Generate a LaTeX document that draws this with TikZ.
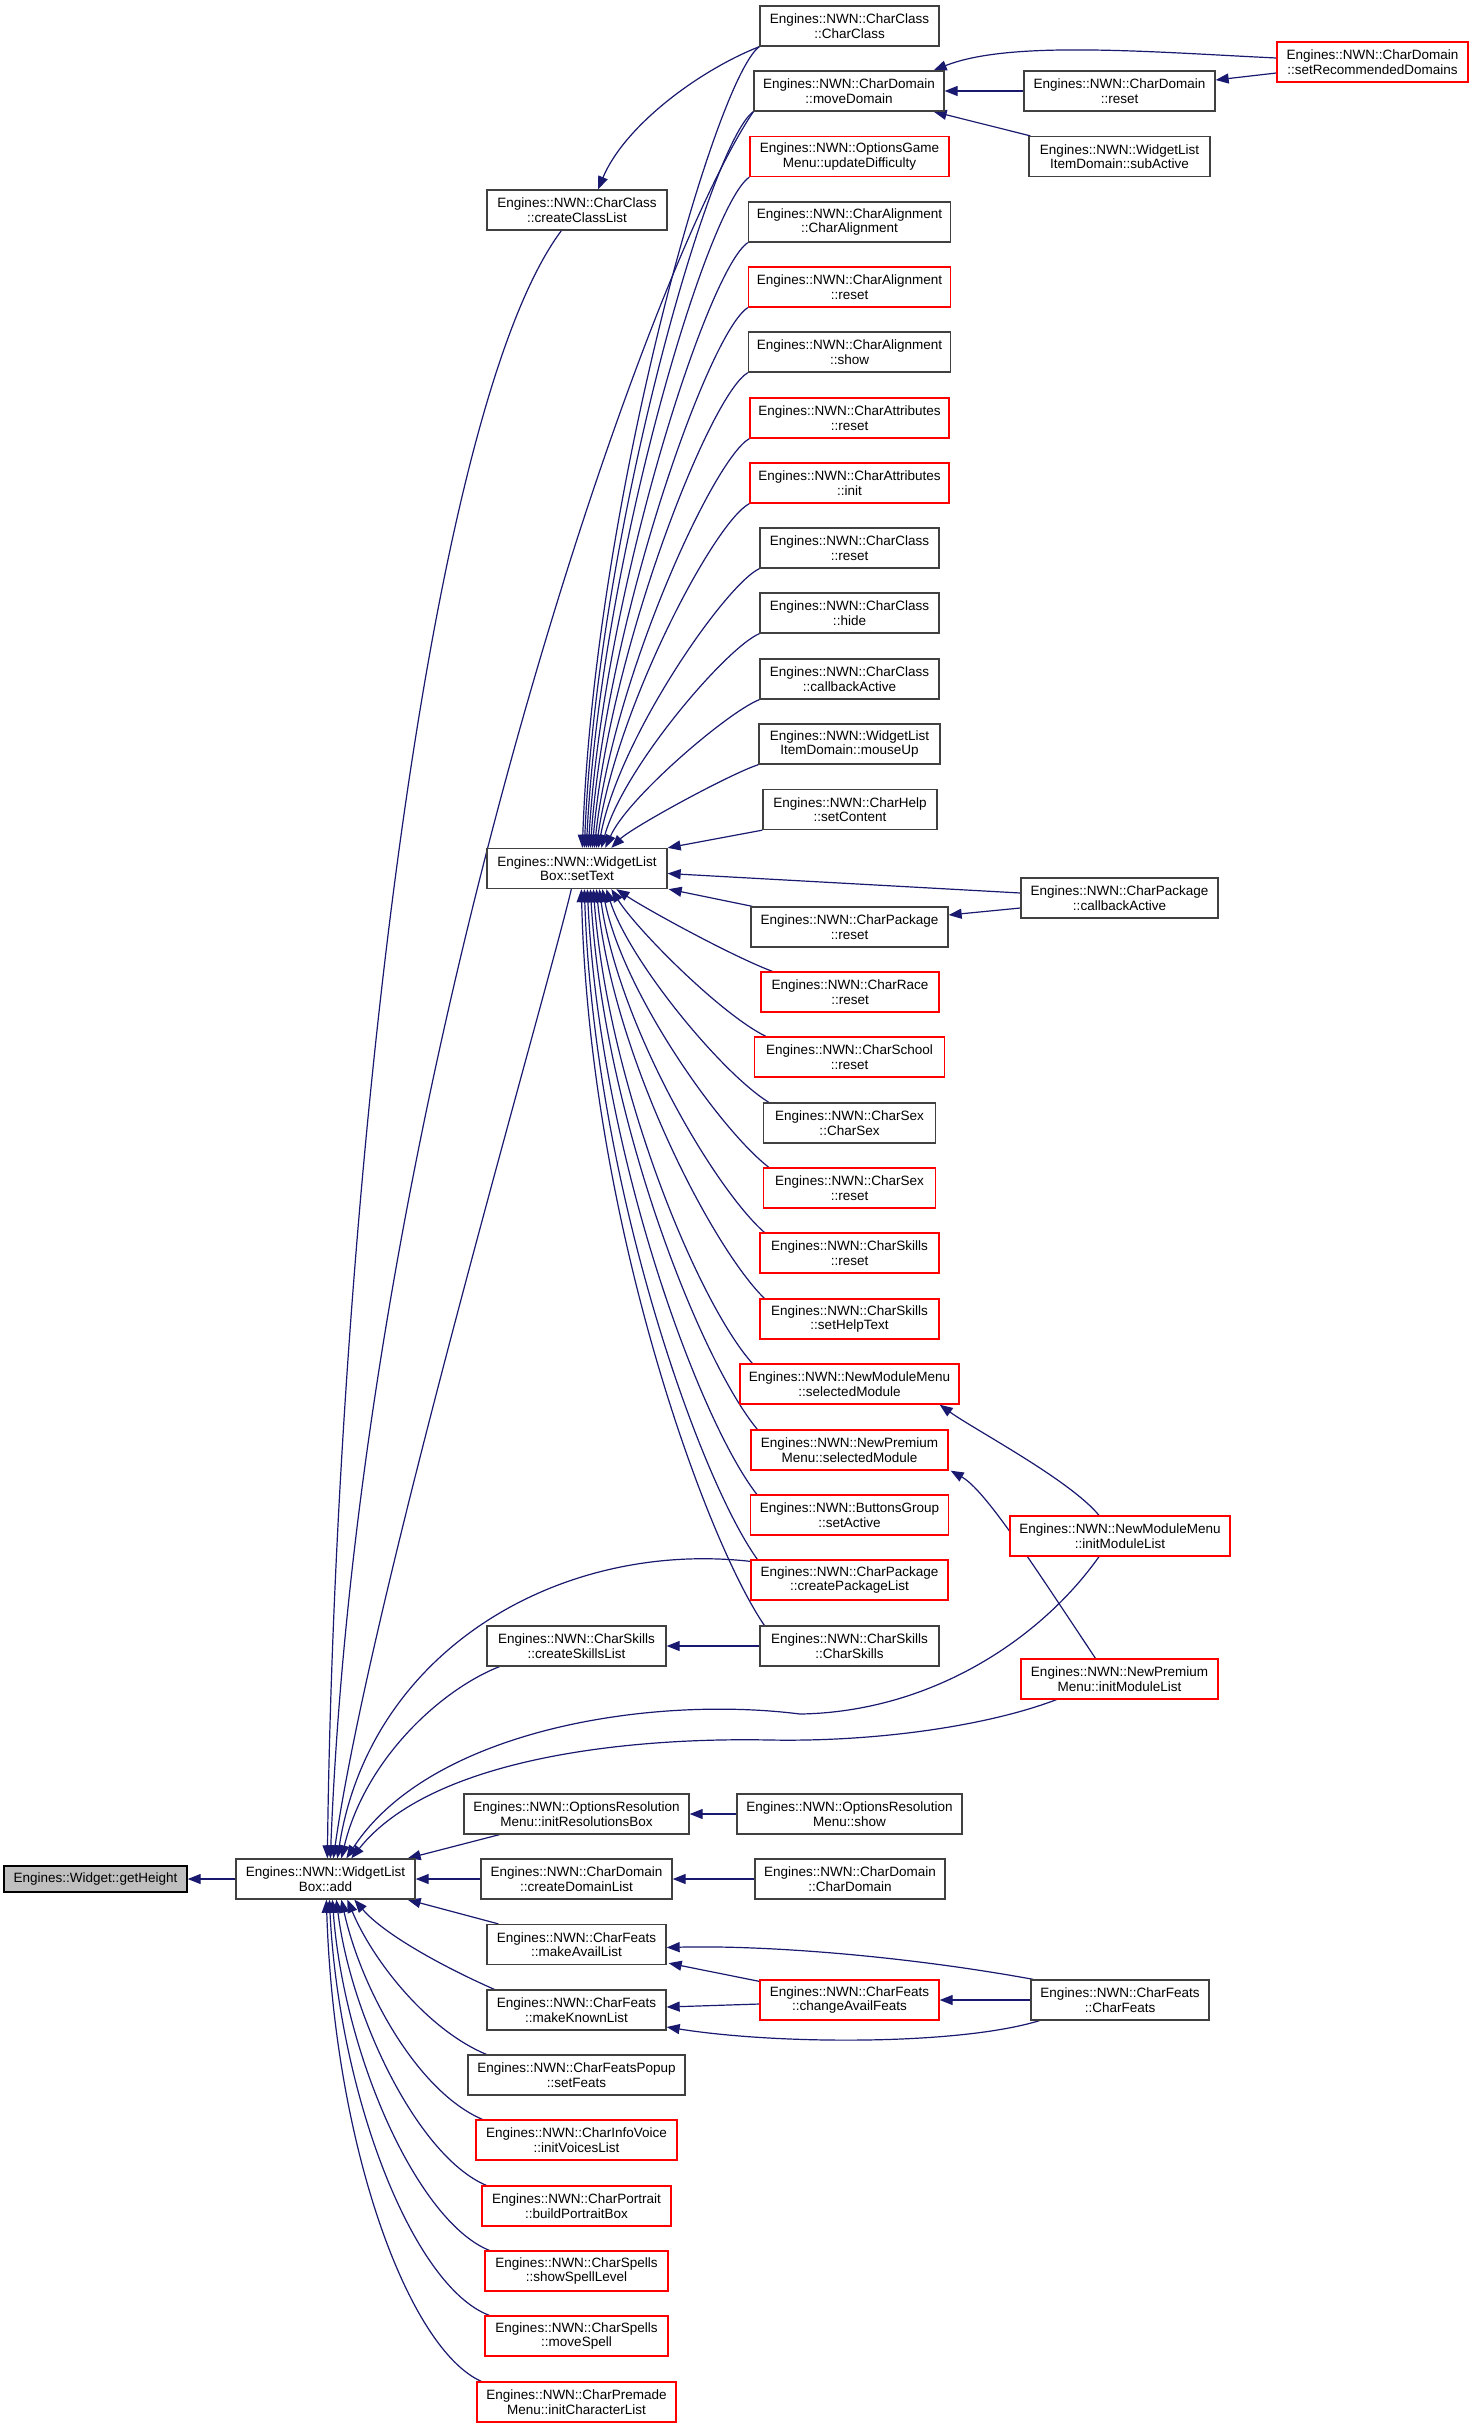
\documentclass[tikz,border=0pt]{standalone}
\usepackage{fontspec}
\setmainfont{Liberation Sans}
\usetikzlibrary{arrows.meta,calc}
\definecolor{edgec}{HTML}{191970}
\definecolor{boxgray}{HTML}{404040}
\definecolor{boxred}{HTML}{FF0000}
\definecolor{fillgray}{HTML}{BFBFBF}
\pgfdeclarelayer{background}
\pgfsetlayers{background,main}
\begin{document}
\begin{tikzpicture}[x=1pt,y=-1pt,
 nb/.style={draw=boxgray, fill=white, line width=1.3pt, rectangle, minimum height=40pt, inner sep=0pt, align=center, font=\fontsize{13.5}{14.6}\selectfont},
 rb/.style={nb, draw=boxred},
 edg/.style={draw=edgec, line width=1.2pt, -{Triangle[length=13pt,width=10pt]}}]
\useasboundingbox (0,0) rectangle (1473,2428);
% column 1-2
\node[nb, fill=fillgray, draw=black, minimum width=183pt, minimum height=26pt] (gh) at (95.5,1879) {Engines::Widget::getHeight};
\node[nb, minimum width=179pt] (add) at (325.5,1879) {Engines::NWN::WidgetList\\Box::add};
% column 3
\node[nb, minimum width=180pt] (ccl) at (577,210) {Engines::NWN::CharClass\\::createClassList};
\node[nb, minimum width=180pt] (st) at (577,868.5) {Engines::NWN::WidgetList\\Box::setText};
\node[nb, minimum width=179pt] (csl) at (576.5,1646) {Engines::NWN::CharSkills\\::createSkillsList};
\node[nb, minimum width=225pt] (irb) at (576.5,1814) {Engines::NWN::OptionsResolution\\Menu::initResolutionsBox};
\node[nb, minimum width=191pt] (cdl) at (576.5,1879) {Engines::NWN::CharDomain\\::createDomainList};
\node[nb, minimum width=179pt] (mal) at (576.5,1944.5) {Engines::NWN::CharFeats\\::makeAvailList};
\node[nb, minimum width=179pt] (mkl) at (576.5,2010) {Engines::NWN::CharFeats\\::makeKnownList};
\node[nb, minimum width=217pt] (sf) at (576.5,2075) {Engines::NWN::CharFeatsPopup\\::setFeats};
\node[rb, minimum width=201pt] (ivl) at (576.5,2140) {Engines::NWN::CharInfoVoice\\::initVoicesList};
\node[rb, minimum width=189pt] (bpb) at (576.5,2206) {Engines::NWN::CharPortrait\\::buildPortraitBox};
\node[rb, minimum width=183pt] (ssl) at (576.5,2271) {Engines::NWN::CharSpells\\::showSpellLevel};
\node[rb, minimum width=183pt] (msp) at (576.5,2336) {Engines::NWN::CharSpells\\::moveSpell};
\node[rb, minimum width=199pt] (icl) at (576.5,2402) {Engines::NWN::CharPremade\\Menu::initCharacterList};
% column 4
\node[nb, minimum width=179pt] (cc) at (849.5,26) {Engines::NWN::CharClass\\::CharClass};
\node[nb, minimum width=190pt] (md) at (849,91) {Engines::NWN::CharDomain\\::moveDomain};
\node[rb, minimum width=199pt] (ud) at (849.5,156.5) {Engines::NWN::OptionsGame\\Menu::updateDifficulty};
\node[nb, minimum width=202pt] (cac) at (849.5,222) {Engines::NWN::CharAlignment\\::CharAlignment};
\node[rb, minimum width=202pt] (car) at (849.5,287) {Engines::NWN::CharAlignment\\::reset};
\node[nb, minimum width=202pt] (cas) at (849.5,352) {Engines::NWN::CharAlignment\\::show};
\node[rb, minimum width=199pt] (catr) at (849.5,418) {Engines::NWN::CharAttributes\\::reset};
\node[rb, minimum width=199pt] (cati) at (849.5,483) {Engines::NWN::CharAttributes\\::init};
\node[nb, minimum width=179pt] (ccr) at (849.5,548) {Engines::NWN::CharClass\\::reset};
\node[nb, minimum width=179pt] (cch) at (849.5,613) {Engines::NWN::CharClass\\::hide};
\node[nb, minimum width=179pt] (cccb) at (849.5,679) {Engines::NWN::CharClass\\::callbackActive};
\node[nb, minimum width=181pt] (mu) at (849.5,744) {Engines::NWN::WidgetList\\ItemDomain::mouseUp};
\node[nb, minimum width=174pt] (help) at (850,809.5) {Engines::NWN::CharHelp\\::setContent};
\node[nb, minimum width=197pt] (cpr) at (849.5,927) {Engines::NWN::CharPackage\\::reset};
\node[rb, minimum width=178pt] (crr) at (850,992) {Engines::NWN::CharRace\\::reset};
\node[rb, minimum width=190pt] (csr) at (849.5,1057) {Engines::NWN::CharSchool\\::reset};
\node[nb, minimum width=172pt] (csx) at (849.5,1123) {Engines::NWN::CharSex\\::CharSex};
\node[rb, minimum width=172pt] (csxr) at (849.5,1188) {Engines::NWN::CharSex\\::reset};
\node[rb, minimum width=179pt] (cskr) at (849.5,1253) {Engines::NWN::CharSkills\\::reset};
\node[rb, minimum width=179pt] (csht) at (849.5,1319) {Engines::NWN::CharSkills\\::setHelpText};
\node[rb, minimum width=219pt] (nms) at (849.5,1384) {Engines::NWN::NewModuleMenu\\::selectedModule};
\node[rb, minimum width=197pt] (nps) at (849.5,1450) {Engines::NWN::NewPremium\\Menu::selectedModule};
\node[rb, minimum width=198pt] (bgs) at (849.5,1515) {Engines::NWN::ButtonsGroup\\::setActive};
\node[rb, minimum width=197pt] (cpl) at (849.5,1580) {Engines::NWN::CharPackage\\::createPackageList};
\node[nb, minimum width=179pt] (css) at (849.5,1646) {Engines::NWN::CharSkills\\::CharSkills};
\node[nb, minimum width=225pt] (ors) at (849.5,1814) {Engines::NWN::OptionsResolution\\Menu::show};
\node[nb, minimum width=190pt] (cdc) at (850,1879) {Engines::NWN::CharDomain\\::CharDomain};
\node[rb, minimum width=179pt] (caf) at (849.5,2000) {Engines::NWN::CharFeats\\::changeAvailFeats};
% column 5-6
\node[nb, minimum width=191pt] (cdr) at (1119.5,91) {Engines::NWN::CharDomain\\::reset};
\node[nb, minimum width=181pt] (sub) at (1119.5,156.5) {Engines::NWN::WidgetList\\ItemDomain::subActive};
\node[nb, minimum width=197pt] (cpcb) at (1119.5,898) {Engines::NWN::CharPackage\\::callbackActive};
\node[rb, minimum width=220pt] (nmi) at (1120,1536) {Engines::NWN::NewModuleMenu\\::initModuleList};
\node[rb, minimum width=197pt] (npi) at (1119.5,1679) {Engines::NWN::NewPremium\\Menu::initModuleList};
\node[nb, minimum width=178pt] (cf) at (1120,2000) {Engines::NWN::CharFeats\\::CharFeats};
\node[rb, minimum width=191pt] (srd) at (1372.5,62) {Engines::NWN::CharDomain\\::setRecommendedDomains};

\begin{pgfonlayer}{background}
\fill[white] (0,0) rectangle (1473,2428);
\draw[edg] (add.west) -- (gh.east);
% callers of add, from above
\draw[edg] ($(ccl.south west)+(75,0)$) .. controls (420,420) and (335,1250) .. ($(add.north west)+(92,0)$);
\draw[edg] (md.south west) .. controls (640,280) and (360,1100) .. ($(add.north west)+(95,0)$);
\draw[edg] ($(st.south west)+(85,0)$) .. controls (545,1000) and (370,1600) .. ($(add.north west)+(98,0)$);
\draw[edg] ($(cpl.north west)+(0,2)$) .. controls (560,1540) and (370,1650) .. ($(add.north west)+(102,0)$);
\draw[edg] ($(csl.south west)+(13,0)$) .. controls (440,1690) and (365,1760) .. ($(add.north west)+(106,0)$);
\draw[edg] ($(nmi.south)+(-21,0)$) .. controls (1040,1640) and (930,1712) .. (800,1714) .. controls (650,1695) and (430,1730) .. ($(add.north west)+(111,0)$);
\draw[edg] ($(npi.south west)+(36,0)$) .. controls (990,1725) and (880,1742) .. (770,1740) .. controls (620,1737) and (430,1760) .. ($(add.north west)+(116,0)$);
\draw[edg] ($(irb.south west)+(36,0)$) -- ($(add.north east)+(-8,0)$);
\draw[edg] (cdl.west) -- (add.east);
% callers of add, from below
\draw[edg] ($(mal.north west)+(12,0)$) -- ($(add.south east)+(-8,0)$);
\draw[edg] ($(mkl.north west)+(8,0)$) .. controls +(-50,-22) and +(30,35) .. ($(add.south west)+(119,0)$);
\draw[edg] ($(sf.north west)+(19,0)$) .. controls +(-60,-25) and +(25,60) .. ($(add.south west)+(112,0)$);
\draw[edg] ($(ivl.north west)+(7,0)$) .. controls +(-65,-28) and +(20,90) .. ($(add.south west)+(106,0)$);
\draw[edg] ($(bpb.north west)+(5,0)$) .. controls +(-67,-28) and +(15,120) .. ($(add.south west)+(101,0)$);
\draw[edg] ($(ssl.north west)+(5,0)$) .. controls +(-70,-28) and +(12,160) .. ($(add.south west)+(97,0)$);
\draw[edg] ($(msp.north west)+(5,0)$) .. controls +(-75,-28) and +(10,200) .. ($(add.south west)+(94,0)$);
\draw[edg] ($(icl.north west)+(5,0)$) .. controls +(-72,-32) and +(8,250) .. ($(add.south west)+(91,0)$);
% straight ones
\draw[edg] (css.west) -- (csl.east);
\draw[edg] (ors.west) -- (irb.east);
\draw[edg] (cdc.west) -- (cdl.east);
\draw[edg] (cf.west) -- (caf.east);
\draw[edg] (cdr.west) -- (md.east);
% feats
\draw[edg] ($(cf.north west)+(3,0)$) .. controls (900,1955) and (760,1945) .. ($(mal.east)+(0,3)$);
\draw[edg] ($(caf.north west)+(0,2)$) -- ($(mal.south east)+(2,-2)$);
\draw[edg] ($(caf.west)+(0,4)$) -- ($(mkl.east)+(0,-3)$);
\draw[edg] ($(cf.south west)+(9,0)$) .. controls (960,2045) and (780,2045) .. ($(mkl.east)+(0,17)$);
% domains
\draw[edg] ($(srd.west)+(0,-4)$) .. controls (1150,52) and (1010,40) .. ($(md.north east)+(-11,0)$);
\draw[edg] ($(srd.west)+(0,11)$) -- ($(cdr.east)+(0,-11)$);
\draw[edg] ($(sub.north west)+(2,0)$) -- ($(md.south east)+(-11,0)$);
% package
\draw[edg] ($(cpcb.west)+(0,-5)$) -- ($(st.east)+(0,5)$);
\draw[edg] ($(cpcb.west)+(0,10)$) -- ($(cpr.east)+(0,-12)$);
\draw[edg] ($(cpr.north west)+(2,0)$) -- ($(st.south east)+(1,0)$);
\draw[edg] (help.south west) -- (st.north east);
% modules
\draw[edg] ($(nmi.north)+(-21,0)$) .. controls (1070,1480) and (975,1430) .. ($(nms.south east)+(-20,0)$);
\draw[edg] ($(npi.north)+(-24,0)$) .. controls (1030,1560) and (985,1490) .. ($(nps.south east)+(2,0)$);
% class list
\draw[edg] (cc.south west) .. controls (700,70) and (625,125) .. ($(ccl.north)+(21,0)$);
% callers of setText, from above
\draw[edg] (cc.south west) .. controls +(-44,32) and +(12,-343) .. ($(st.north west)+(96,0)$);
\draw[edg] (md.south west) .. controls +(-43,30) and +(13,-314) .. ($(st.north west)+(98,0)$);
\draw[edg] (ud.south west) .. controls +(-42,28) and +(14,-285) .. ($(st.north west)+(100,0)$);
\draw[edg] (cac.south west) .. controls +(-40,26) and +(15,-255) .. ($(st.north west)+(102,0)$);
\draw[edg] (car.south west) .. controls +(-39,24) and +(16,-226) .. ($(st.north west)+(104,0)$);
\draw[edg] (cas.south west) .. controls +(-38,22) and +(17,-197) .. ($(st.north west)+(106,0)$);
\draw[edg] (catr.south west) .. controls +(-36,20) and +(18,-167) .. ($(st.north west)+(108,0)$);
\draw[edg] (cati.south west) .. controls +(-35,18) and +(19,-138) .. ($(st.north west)+(110,0)$);
\draw[edg] (ccr.south west) .. controls +(-34,16) and +(20,-109) .. ($(st.north west)+(112,0)$);
\draw[edg] (cch.south west) .. controls +(-33,14) and +(22,-80) .. ($(st.north west)+(115,0)$);
\draw[edg] (cccb.south west) .. controls +(-31,12) and +(22,-50) .. ($(st.north west)+(119,0)$);
\draw[edg] (mu.south west) .. controls +(-30,10) and +(20,-20) .. ($(st.north west)+(125,0)$);
% callers of setText, from below
\draw[edg] ($(crr.north west)+(12,0)$) .. controls +(-40,-15) and +(30,20) .. ($(st.south west)+(130,0)$);
\draw[edg] ($(csr.north west)+(12,0)$) .. controls +(-45,-22) and +(25,40) .. ($(st.south west)+(125,0)$);
\draw[edg] ($(csx.north west)+(6,0)$) .. controls +(-47,-29) and +(23,72) .. ($(st.south west)+(120,0)$);
\draw[edg] ($(csxr.north west)+(6,0)$) .. controls +(-48,-37) and +(21,104) .. ($(st.south west)+(116,0)$);
\draw[edg] ($(cskr.north west)+(5,0)$) .. controls +(-50,-44) and +(19,136) .. ($(st.south west)+(113,0)$);
\draw[edg] ($(csht.north west)+(5,0)$) .. controls +(-52,-51) and +(17,168) .. ($(st.south west)+(110,0)$);
\draw[edg] ($(nms.north west)+(13,0)$) .. controls +(-53,-59) and +(15,200) .. ($(st.south west)+(107,0)$);
\draw[edg] ($(nps.north west)+(7,0)$) .. controls +(-55,-66) and +(14,233) .. ($(st.south west)+(104,0)$);
\draw[edg] ($(bgs.north west)+(7,0)$) .. controls +(-57,-73) and +(12,264) .. ($(st.south west)+(101,0)$);
\draw[edg] ($(cpl.north west)+(7,0)$) .. controls +(-58,-81) and +(10,296) .. ($(st.south west)+(98,0)$);
\draw[edg] ($(css.north west)+(5,0)$) .. controls +(-60,-88) and +(8,329) .. ($(st.south west)+(95,0)$);
\end{pgfonlayer}
\end{tikzpicture}
\end{document}
